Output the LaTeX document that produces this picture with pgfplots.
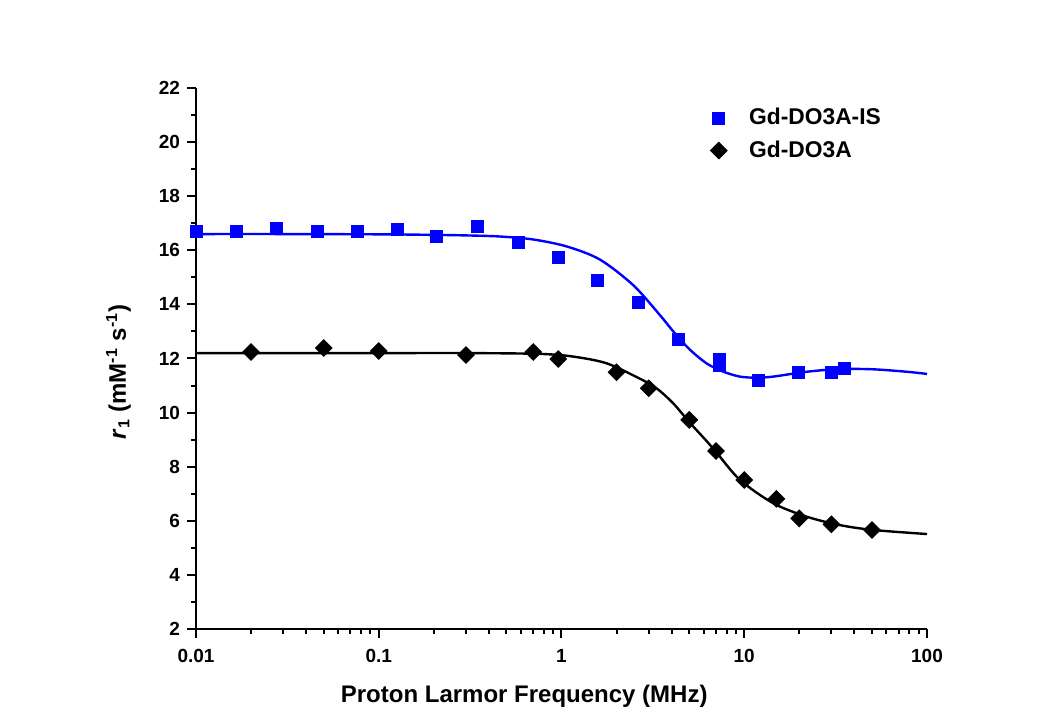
\documentclass[border=0pt]{standalone}
\usepackage{fontspec}
\setmainfont{Liberation Sans}
\usepackage{pgfplots}
\pgfplotsset{compat=1.18}
\begin{document}
\begin{tikzpicture}
\useasboundingbox (-98pt,-43pt) rectangle (433pt,314.5pt);
\begin{axis}[
  scale only axis,
  width=365.5pt, height=270.5pt,
  xmode=log,
  xmin=0.01, xmax=100,
  ymin=2, ymax=22,
  axis lines*=left,
  axis line style={line width=1.2pt},
  tick align=outside,
  major tick length=4.5pt,
  minor tick length=2.5pt,
  every tick/.style={black, line width=1pt},
  xtick={0.01,0.1,1,10,100},
  xticklabels={0.01,0.1,1,10,100},
  minor xtick={0.02,0.03,0.04,0.05,0.06,0.07,0.08,0.09,
               0.2,0.3,0.4,0.5,0.6,0.7,0.8,0.9,
               2,3,4,5,6,7,8,9,20,30,40,50,60,70,80,90},
  ytick={2,4,...,22},
  minor y tick num=1,
  ticklabel style={font=\fontsize{9.5}{11}\selectfont\bfseries},
  /pgf/number format/assume math mode=true,
  xticklabel style={yshift=-2pt},
  xlabel={Proton Larmor Frequency (MHz)},
  ylabel={\textit{r}\textsubscript{1} (mM\textsuperscript{-1} s\textsuperscript{-1})},
  label style={font=\fontsize{12}{14}\selectfont\bfseries},
  xlabel style={at={(axis description cs:0.449,-0.124)}, anchor=center},
  ylabel style={at={(axis description cs:-0.106,0.475)}, anchor=center, rotate=0},
  legend style={draw=none, fill=none, at={(0.695,0.978)}, anchor=north west,
    font=\fontsize{11.4}{13}\selectfont\bfseries, row sep=2.5pt},
  legend cell align=left,
  clip=false,
]
% fitted curves
\addplot[blue, line width=1.2pt, smooth, forget plot] coordinates {
  (0.01,16.6)(0.03,16.6)(0.1,16.59)(0.2,16.57)(0.3,16.55)(0.46,16.51)
  (0.7,16.4)(1.07,16.14)(1.62,15.66)(2.47,14.71)(3.46,13.6)(4.09,13.0)
  (5.0,12.35)(6.22,11.82)(7.7,11.51)(9.48,11.33)(11.7,11.29)(14.4,11.33)
  (22,11.51)(33.4,11.61)(50.8,11.6)(77.4,11.51)(100,11.43)
};
\addplot[black, line width=1.2pt, smooth, forget plot] coordinates {
  (0.01,12.2)(0.1,12.2)(0.3,12.2)(0.76,12.17)(1.16,12.07)(1.77,11.82)
  (2.69,11.25)(3.31,10.9)(4.09,10.34)(5.0,9.65)(6.22,8.95)(7.1,8.5)
  (9.48,7.51)(14.4,6.65)(22,6.15)(33.4,5.84)(50.8,5.66)(100,5.51)
};
% data
\addplot[only marks, mark=square*, mark size=3pt, blue, mark options={draw=none, fill=blue}]
  coordinates {
  (0.01,16.68)(0.0166,16.71)(0.0274,16.82)(0.0459,16.71)(0.076,16.71)
  (0.126,16.79)(0.208,16.53)(0.345,16.9)(0.578,16.31)(0.957,15.72)
  (1.58,14.9)(2.62,14.09)(4.34,12.72)(7.27,11.98)(7.27,11.74)
  (12.0,11.2)(19.9,11.49)(29.8,11.48)(35.2,11.64)
};
\addlegendentry{\hspace{9pt}Gd-DO3A-IS}
\addplot[only marks, mark=square*, mark size=2.95pt, black, mark options={draw=none, fill=black, rotate=45}]
  coordinates {
  (0.02,12.24)(0.05,12.39)(0.1,12.28)(0.3,12.13)(0.7,12.24)(0.96,11.98)
  (2.0,11.49)(3.0,10.9)(5.0,9.73)(7.0,8.58)(10,7.51)(15,6.81)
  (20,6.09)(30,5.87)(50,5.66)
};
\addlegendentry{\hspace{9pt}Gd-DO3A}
\end{axis}
\end{tikzpicture}
\end{document}
